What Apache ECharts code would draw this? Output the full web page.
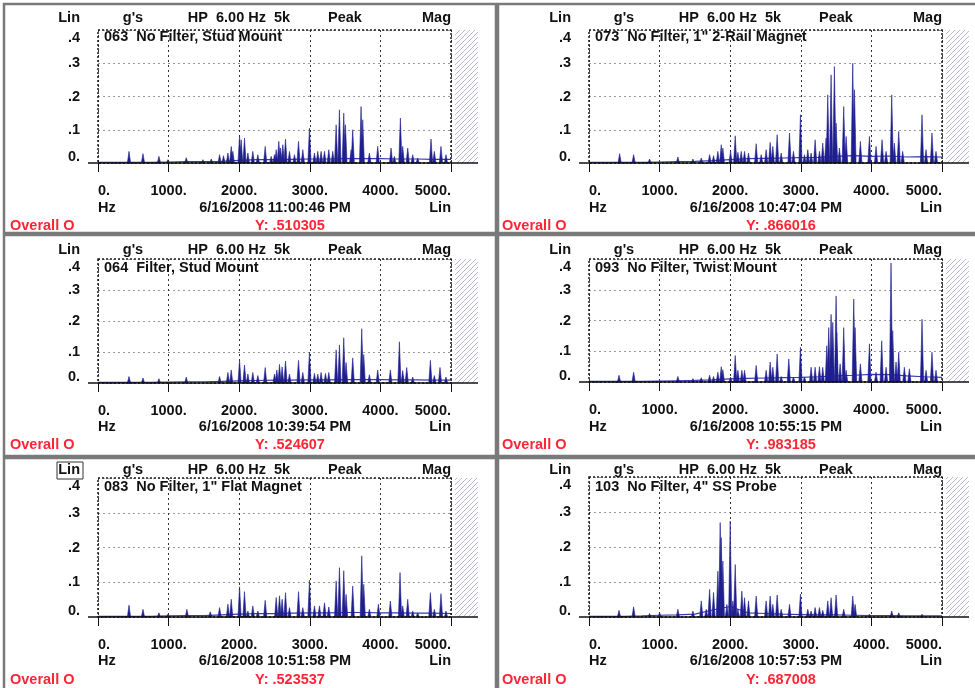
<!DOCTYPE html>
<html><head><meta charset="utf-8">
<script src="https://cdn.jsdelivr.net/npm/echarts@6/dist/echarts.min.js"></script>
<style>html,body{margin:0;padding:0;background:#fff}#c{width:975px;height:688px}</style>
</head><body><div id="c"></div>
<script>
// ---------- data ----------
const xTicks = ['0.', '1000.', '2000.', '3000.', '4000.', '5000.'];
const yTicks = ['0.', '.1', '.2', '.3', '.4'];
const headerTexts = ['Lin', "g's", 'HP  6.00 Hz  5k', 'Peak', 'Mag'];
const titles = ['063  No Filter, Stud Mount', '073  No Filter, 1" 2-Rail Magnet', '064  Filter, Stud Mount',
  '093  No Filter, Twist Mount', '083  No Filter, 1" Flat Magnet', '103  No Filter, 4" SS Probe'];
const dates = ['6/16/2008 11:00:46 PM', '6/16/2008 10:47:04 PM', '6/16/2008 10:39:54 PM',
  '6/16/2008 10:55:15 PM', '6/16/2008 10:51:58 PM', '6/16/2008 10:57:53 PM'];
const overallLabel = 'Overall O';
const overallValues = ['Y: .510305', 'Y: .866016', 'Y: .524607', 'Y: .983185', 'Y: .523537', 'Y: .687008'];

const floorFreqs = [0,250,500,750,1000,1250,1500,1750,2000,2250,2500,2750,3000,3250,3500,3750,4000,4250,4500,4750,5000];
const floor063 = [0.002,0.002,0.002,0.002,0.003,0.004,0.004,0.005,0.008,0.010,0.010,0.011,0.012,0.012,0.013,0.013,0.013,0.012,0.012,0.011,0.011];
const floor073 = [0.002,0.002,0.002,0.002,0.003,0.004,0.005,0.007,0.010,0.013,0.014,0.015,0.016,0.017,0.020,0.022,0.020,0.021,0.018,0.019,0.018];
const floor064 = [0.002,0.002,0.002,0.002,0.003,0.004,0.004,0.005,0.007,0.008,0.009,0.009,0.010,0.010,0.011,0.011,0.011,0.010,0.010,0.009,0.009];
const floor093 = [0.002,0.002,0.002,0.002,0.003,0.004,0.005,0.007,0.010,0.012,0.013,0.014,0.015,0.017,0.020,0.022,0.025,0.024,0.020,0.017,0.015];
const floor083 = [0.002,0.002,0.002,0.002,0.003,0.004,0.004,0.006,0.008,0.010,0.010,0.011,0.012,0.012,0.013,0.013,0.012,0.012,0.011,0.011,0.010];
const floor103 = [0.002,0.002,0.002,0.003,0.005,0.006,0.008,0.020,0.030,0.012,0.010,0.008,0.007,0.006,0.006,0.005,0.004,0.004,0.003,0.003,0.003];

const peaks063 = [[439,.035],[637,.028],[863,.02],[991,.01],[1250,.016],[1486,.01],[1604,.012],[1722,.025],[1778,.022],[1840,.03],[1887,.05],[1910,.035],[2005,.082],[2028,.07],[2075,.075],[2123,.03],[2193,.035],[2264,.025],[2368,.05],[2453,.02],[2500,.025],[2524,.04],[2561,.065],[2585,.045],[2618,.055],[2656,.072],[2712,.035],[2783,.025],[2840,.065],[2901,.04],[2995,.105],[3066,.03],[3113,.035],[3160,.035],[3208,.035],[3269,.04],[3325,.035],[3373,.115],[3420,.16],[3481,.15],[3505,.115],[3585,.04],[3608,.1],[3726,.17],[3750,.13],[3844,.03],[3962,.05],[4151,.045],[4198,.02],[4283,.135],[4316,.05],[4387,.045],[4458,.025],[4528,.015],[4717,.072],[4764,.035],[4858,.05],[4929,.025]];
const peaks073 = [[434,.028],[632,.025],[858,.012],[1259,.018],[1472,.012],[1590,.015],[1708,.025],[1764,.022],[1825,.035],[1873,.055],[1896,.045],[2005,.035],[2071,.082],[2109,.032],[2156,.035],[2203,.035],[2259,.03],[2368,.058],[2439,.025],[2509,.04],[2566,.062],[2604,.05],[2665,.085],[2722,.03],[2840,.09],[2896,.035],[2995,.145],[3052,.025],[3099,.04],[3146,.03],[3203,.07],[3264,.035],[3311,.06],[3358,.075],[3382,.205],[3429,.265],[3476,.29],[3500,.12],[3547,.045],[3608,.17],[3642,.08],[3736,.30],[3760,.22],[3844,.065],[3972,.08],[4066,.05],[4151,.07],[4208,.035],[4288,.205],[4325,.06],[4387,.095],[4443,.035],[4717,.145],[4774,.04],[4858,.09],[4915,.035]];
const peaks064 = [[439,.021],[637,.016],[863,.014],[1250,.019],[1722,.021],[1840,.034],[1887,.042],[2005,.073],[2075,.058],[2123,.029],[2193,.034],[2264,.024],[2368,.05],[2500,.029],[2533,.042],[2571,.06],[2608,.052],[2656,.071],[2712,.029],[2840,.073],[2901,.034],[2995,.1],[3066,.031],[3113,.029],[3160,.034],[3222,.031],[3269,.034],[3373,.107],[3420,.123],[3481,.146],[3514,.066],[3608,.081],[3736,.175],[3764,.092],[3844,.027],[3962,.042],[4141,.042],[4269,.133],[4316,.04],[4373,.05],[4458,.019],[4708,.073],[4764,.024],[4844,.05],[4929,.019]];
const peaks093 = [[425,.022],[632,.032],[1259,.018],[1472,.011],[1590,.014],[1708,.022],[1764,.018],[1825,.032],[1873,.05],[1896,.04],[2005,.016],[2071,.086],[2109,.038],[2165,.038],[2203,.038],[2368,.054],[2509,.038],[2566,.065],[2604,.048],[2665,.091],[2722,.018],[2830,.075],[2896,.016],[2995,.113],[3052,.016],[3146,.048],[3203,.048],[3264,.05],[3311,.048],[3368,.118],[3396,.177],[3429,.22],[3453,.194],[3500,.28],[3509,.16],[3557,.059],[3608,.177],[3642,.038],[3750,.27],[3769,.177],[3844,.059],[3972,.124],[4066,.032],[4146,.134],[4208,.048],[4278,.387],[4302,.167],[4349,.065],[4387,.097],[4467,.048],[4538,.043],[4717,.204],[4774,.038],[4858,.097],[4915,.038]];
const peaks083 = [[439,.034],[637,.022],[863,.012],[991,.008],[1259,.022],[1590,.015],[1722,.027],[1840,.037],[1887,.051],[2005,.087],[2075,.073],[2123,.017],[2193,.032],[2264,.017],[2368,.048],[2524,.056],[2571,.061],[2608,.051],[2656,.07],[2712,.027],[2840,.073],[2901,.027],[2995,.106],[3066,.032],[3137,.032],[3208,.041],[3269,.029],[3373,.104],[3420,.142],[3481,.133],[3514,.065],[3608,.089],[3736,.176],[3764,.094],[3844,.022],[3972,.037],[4141,.046],[4278,.128],[4316,.032],[4387,.051],[4458,.017],[4528,.012],[4708,.07],[4764,.022],[4858,.067],[4929,.017]];
const peaks103 = [[425,.019],[632,.029],[858,.01],[1000,.012],[1259,.022],[1472,.017],[1590,.046],[1660,.022],[1708,.079],[1764,.07],[1825,.131],[1858,.27],[1873,.227],[1896,.16],[1953,.036],[2000,.274],[2038,.046],[2071,.15],[2109,.022],[2165,.074],[2203,.055],[2259,.046],[2368,.06],[2509,.046],[2566,.06],[2604,.036],[2665,.063],[2722,.022],[2840,.036],[2995,.065],[3099,.022],[3146,.017],[3203,.027],[3264,.027],[3311,.019],[3382,.046],[3429,.055],[3500,.063],[3608,.022],[3736,.06],[3769,.036],[3972,.008],[4288,.017],[4387,.012],[4717,.008]];

const floors = [floor063, floor073, floor064, floor093, floor083, floor103];
const peaks = [peaks063, peaks073, peaks064, peaks093, peaks083, peaks103];

// ---------- layout ----------
const FONT = 'bold 14.5px "Liberation Sans", Arial, sans-serif';
const PW = 353;
const panels = [
  {left: 98,  top: 30,  h: 133, hdrY: 18,  titleY: 37,  hzY: 208, ovY: 226, ovX: 10},
  {left: 589, top: 30,  h: 133, hdrY: 18,  titleY: 37,  hzY: 208, ovY: 226, ovX: 502},
  {left: 98,  top: 259, h: 124, hdrY: 250, titleY: 268, hzY: 427, ovY: 445, ovX: 10},
  {left: 589, top: 259, h: 123, hdrY: 250, titleY: 268, hzY: 427, ovY: 445, ovX: 502},
  {left: 98,  top: 478, h: 139, hdrY: 470, titleY: 487, hzY: 661, ovY: 680, ovX: 10},
  {left: 589, top: 477, h: 140, hdrY: 470, titleY: 487, hzY: 661, ovY: 680, ovX: 502}
];

// hatch pattern
const pc = document.createElement('canvas');
pc.width = 5; pc.height = 5;
const g = pc.getContext('2d');
g.strokeStyle = '#a4a4c4'; g.lineWidth = 0.8;
g.beginPath(); g.moveTo(-1, 6); g.lineTo(6, -1); g.stroke();
g.beginPath(); g.moveTo(4, 6); g.lineTo(6, 4); g.stroke();
g.beginPath(); g.moveTo(-1, 1); g.lineTo(1, -1); g.stroke();

const txt = (text, x, y, align, color) => ({
  type: 'text', silent: true, z: 10,
  style: {text, x, y, textAlign: align, textVerticalAlign: 'middle', font: FONT, fill: color || '#111'}
});

const grids = [], xAxes = [], yAxes = [], series = [], graphics = [];

// panel frames
const frames = [[4,4,492,229],[4,235,492,221],[4,458,492,235],[498,4,482,229],[498,235,482,221],[498,458,482,235]];
frames.forEach(f => graphics.push({type:'rect', silent:true, z:1, shape:{x:f[0],y:f[1],width:f[2],height:f[3]}, style:{fill:'none', stroke:'#7a7a7a', lineWidth:2.5}}));

panels.forEach((p, i) => {
  const right = p.left + PW, bottom = p.top + p.h;
  grids.push({left: p.left, top: p.top, width: PW, height: p.h});
  xAxes.push({
    type: 'value', gridIndex: i, min: 0, max: 5000, interval: 1000,
    axisLine: {show: false},
    axisTick: {show: true, length: 9, lineStyle: {color: '#111', width: 1}},
    splitLine: {show: true, lineStyle: {color: '#333', type: [2, 3], width: 1}},
    axisLabel: {
      margin: 20, color: '#111', fontSize: 14.5, fontWeight: 'bold', fontFamily: '"Liberation Sans", Arial, sans-serif',
      alignMinLabel: 'left', alignMaxLabel: 'right',
      formatter: v => xTicks[Math.round(v / 1000)]
    }
  });
  yAxes.push({
    type: 'value', gridIndex: i, min: 0, max: 0.4, interval: 0.1,
    axisLine: {show: false}, axisTick: {show: false},
    splitLine: {show: true, lineStyle: {color: '#9a9a9a', type: [2, 3], width: 1}},
    axisLabel: {
      margin: 18, color: '#111', fontSize: 14.5, fontWeight: 'bold', fontFamily: '"Liberation Sans", Arial, sans-serif',
      formatter: v => {
        const k = Math.round(v * 10);
        if (k === 4) return '{t|' + yTicks[k] + '}';
        if (k === 0) return '{b|' + yTicks[k] + '}';
        return yTicks[k];
      },
      rich: {
        t: {padding: [16, 0, 0, 0], fontSize: 14.5, fontWeight: 'bold', color: '#111', fontFamily: '"Liberation Sans", Arial, sans-serif'},
        b: {padding: [0, 0, 12, 0], fontSize: 14.5, fontWeight: 'bold', color: '#111', fontFamily: '"Liberation Sans", Arial, sans-serif'}
      }
    }
  });
  series.push({
    type: 'line', xAxisIndex: i, yAxisIndex: i, showSymbol: false, silent: true, z: 3,
    lineStyle: {color: '#3a3ab0', width: 1.2},
    data: floorFreqs.map((f, k) => [f, floors[i][k]])
  });
  series.push({
    type: 'custom', xAxisIndex: i, yAxisIndex: i, silent: true, z: 4,
    renderItem: (params, api) => {
      const tip = api.coord([api.value(0), api.value(1)]);
      const base = api.coord([api.value(0), 0]);
      return {type: 'polygon', shape: {points: [[base[0] - 1.6, base[1]], [tip[0], tip[1]], [base[0] + 1.6, base[1]]]},
        style: {fill: '#1f1f8f', stroke: '#1f1f8f', lineWidth: 0.6}};
    },
    data: peaks[i]
  });

  // plot box, zero line, hatch
  graphics.push({type:'rect', silent:true, z:5, shape:{x:p.left, y:p.top, width:PW, height:p.h}, style:{fill:'none', stroke:'#1a1a1a', lineWidth:1.5, lineDash:[2,2]}});
  graphics.push({type:'rect', silent:true, z:2, shape:{x:right + 4, y:p.top, width:23, height:p.h}, style:{fill:{image: pc, repeat:'repeat'}}});
  graphics.push({type:'line', silent:true, z:6, shape:{x1:p.left - 10, y1:bottom, x2:right + 27, y2:bottom}, style:{stroke:'#111', lineWidth:1.3}});

  // header
  graphics.push(txt(headerTexts[0], p.left - 18, p.hdrY, 'right'));
  graphics.push(txt(headerTexts[1], p.left + 35, p.hdrY, 'center'));
  graphics.push(txt(headerTexts[2], p.left + 141, p.hdrY, 'center'));
  graphics.push(txt(headerTexts[3], p.left + 247, p.hdrY, 'center'));
  graphics.push(txt(headerTexts[4], right, p.hdrY, 'right'));
  graphics.push(txt(titles[i], p.left + 6, p.titleY, 'left'));
  graphics.push(txt('Hz', p.left, p.hzY, 'left'));
  graphics.push(txt(dates[i], p.left + 177, p.hzY, 'center'));
  graphics.push(txt('Lin', right, p.hzY, 'right'));
  graphics.push(txt(overallLabel, p.ovX, p.ovY, 'left', '#ff2536'));
  graphics.push(txt(overallValues[i], p.left + 192, p.ovY, 'center', '#ff2536'));
});
// selection box around "Lin" in the bottom-left panel
graphics.push({type:'rect', silent:true, z:11, shape:{x:57, y:462, width:26, height:17}, style:{fill:'none', stroke:'#333', lineWidth:1}});

const chart = echarts.init(document.getElementById('c'), null, {renderer: 'canvas'});
chart.setOption({
  animation: false,
  backgroundColor: '#fff',
  grid: grids, xAxis: xAxes, yAxis: yAxes, series: series,
  graphic: {elements: graphics}
});
</script></body></html>
